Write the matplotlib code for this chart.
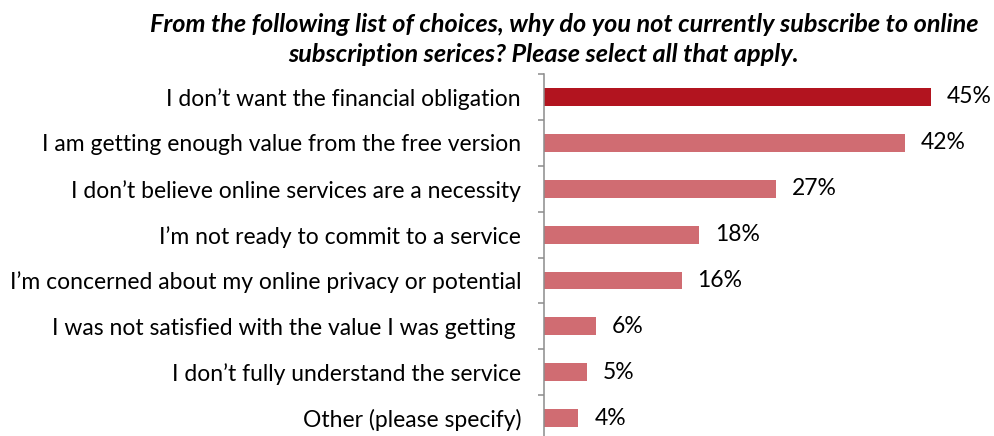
import matplotlib
matplotlib.use("Agg")
import matplotlib.pyplot as plt

# survey answers, top to bottom
reasons = [
    "I don\u2019t want the financial obligation",
    "I am getting enough value from the free version",
    "I don\u2019t believe online services are a necessity",
    "I\u2019m not ready to commit to a service",
    "I\u2019m concerned about my online privacy or potential",
    "I was not satisfied with the value I was getting ",
    "I don\u2019t fully understand the service",
    "Other (please specify)",
]
shares = [45, 42, 27, 18, 16, 6, 5, 4]
title_lines = [
    "From the following list of choices, why do you not currently subscribe to online",
    "subscription serices? Please select all that apply.",
]

DARK = "#B2141F"
LIGHT = "#D06C72"
FONT = "Lato"

plt.rcParams["font.family"] = [FONT, "DejaVu Sans"]

fig = plt.figure(figsize=(9.95, 4.36), dpi=100)
ax = fig.add_axes([0.5467, -0.0115, 0.4495, 0.8417])

pos = list(range(len(reasons)))
colors = [DARK] + [LIGHT] * (len(reasons) - 1)
bars = ax.barh(pos, shares, height=0.39, color=colors)
ax.bar_label(bars, labels=[f"{v}%" for v in shares], padding=11.5,
             fontsize=16.5, color="black")

ax.set_xlim(0, 52)
ax.set_ylim(len(reasons) - 0.5, -0.5)

ax.set_yticks(pos)
ax.set_yticklabels(reasons, fontsize=16.5)
ax.set_yticks([p - 0.5 for p in range(len(reasons) + 1)], minor=True)
ax.tick_params(axis="y", which="major", length=0, pad=16.5)
ax.tick_params(axis="y", which="minor", length=4.3, width=1.1, color="#8c8c8c")
ax.set_xticks([])

for side in ("top", "right", "bottom"):
    ax.spines[side].set_visible(False)
ax.spines["left"].set_color("#8c8c8c")
ax.spines["left"].set_linewidth(1.1)

fig.text(564 / 995, 1 - 32 / 436, title_lines[0], ha="center", va="baseline",
         fontsize=18.2, fontweight="bold", fontstyle="italic")
fig.text(544 / 995, 1 - 62 / 436, title_lines[1], ha="center", va="baseline",
         fontsize=18.2, fontweight="bold", fontstyle="italic")

fig.savefig("out.png", dpi=100)
